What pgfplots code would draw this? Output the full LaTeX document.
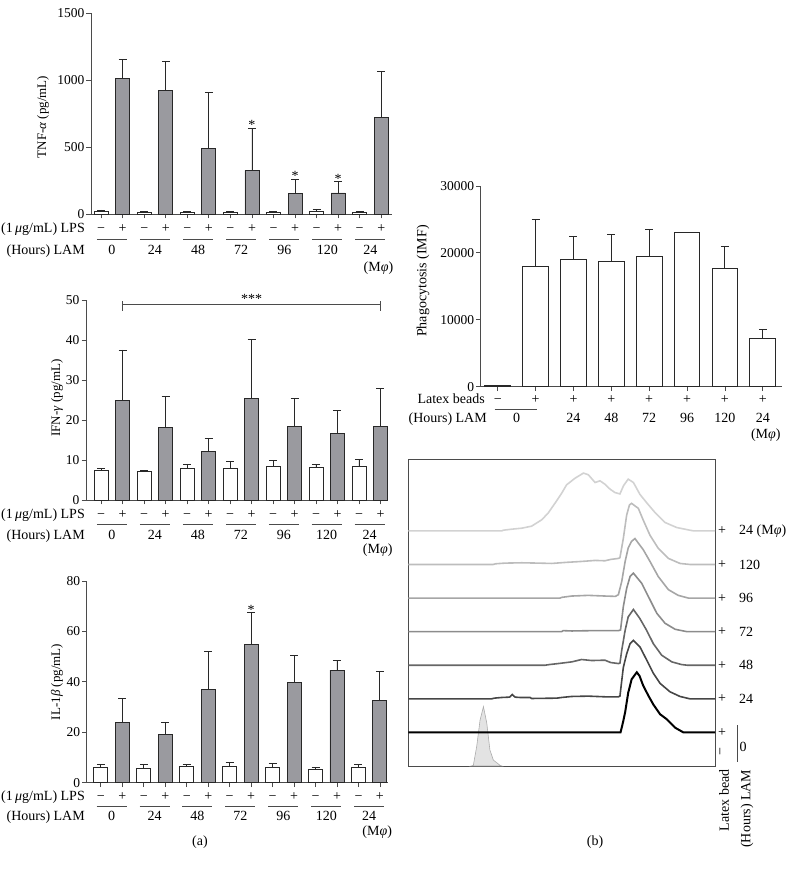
\documentclass[border=0pt]{standalone}
\usepackage{pgfplots}
\pgfplotsset{compat=1.18}
\usepackage{fontspec}
\setmainfont{Liberation Serif}
\definecolor{barg}{RGB}{154,154,159}
\definecolor{edgec}{RGB}{40,40,40}
\definecolor{axc}{RGB}{75,75,75}
\newcommand{\fs}{\fontsize{14}{16}\selectfont}
\newcommand{\fy}{\fontsize{13}{15}\selectfont}
\newcommand{\ft}{\fontsize{13.5}{15}\selectfont}
\tikzset{pmn/.style={anchor=base,font=\fs,inner sep=0pt}}
\pgfplotsset{
  barax/.style={
    scale only axis, anchor=south west,
    axis lines*=left,
    axis line style={axc, line width=0.8pt},
    tick style={axc, line width=0.8pt},
    tick align=outside,
    major tick length=4.5pt,
    xtick={0,...,13}, xticklabels={},
    ymin=0, clip=false,
    /pgf/number format/assume math mode=true,
    /pgf/number format/1000 sep={},
    scaled y ticks=false,
    yticklabel style={font=\ft, inner sep=2pt},
    ybar,
  },
  wbar/.style={fill=white, draw=edgec, line width=0.9pt, bar shift=0pt, bar width=14pt,
    error bars/y dir=plus, error bars/y explicit,
    error bars/error bar style={line width=0.9pt, edgec},
    error bars/error mark options={rotate=90, mark size=4pt, line width=0.9pt, edgec}},
  gbar/.style={wbar, fill=barg},
}
\newcommand{\pmrow}[1]{%
\pgfplotsinvokeforeach{0,2,4,6,8,10,12}{\node[pmn] at ([yshift=#1]axis cs:##1,0) {−};}%
\pgfplotsinvokeforeach{1,3,5,7,9,11,13}{\node[pmn] at ([yshift=#1]axis cs:##1,0) {+};}%
}
\newcommand{\grp}[4]{%
\draw[axc, line width=0.7pt] ([xshift=-15pt,yshift=#3]axis cs:#1,0) -- ([xshift=15pt,yshift=#3]axis cs:#1,0);
\node[pmn] at ([yshift=#4]axis cs:#1,0) {#2};
}
\newcommand{\lamrow}[3]{%
\grp{0.5}{0}{#1}{#2}\grp{2.5}{24}{#1}{#2}\grp{4.5}{48}{#1}{#2}\grp{6.5}{72}{#1}{#2}%
\grp{8.5}{96}{#1}{#2}\grp{10.5}{120}{#1}{#2}\grp{12.5}{24}{#1}{#2}%
\node[pmn] at ([xshift=8pt,yshift=#3]axis cs:12.5,0) {(M\textit{φ})};
}
\newcommand{\sig}[2]{\node[anchor=base,font=\fs,inner sep=0pt] at ([yshift=-1.5pt]axis cs:#1,#2) {*};}

\begin{document}
\begin{tikzpicture}
\useasboundingbox (0pt,0pt) rectangle (794pt,870pt);

%================ TNF-alpha
\begin{axis}[barax, at={(91pt,656pt)}, width=301pt, height=201pt,
  xmin=-0.47, xmax=13.5, ymax=1500, ytick={0,500,1000,1500}]
\addplot[wbar] coordinates {(0,20) +- (0,10) (2,15) +- (0,5) (4,15) +- (0,6) (6,12) +- (0,5) (8,12) +- (0,5) (10,20) +- (0,12) (12,12) +- (0,4)};
\addplot[gbar] coordinates {(1,1014) +- (0,142) (3,919) +- (0,217) (5,486) +- (0,423) (7,324) +- (0,316) (9,150) +- (0,109) (11,157) +- (0,85) (13,723) +- (0,339)};
\sig{7}{640}\sig{9}{259}\sig{11}{242}
\pmrow{-18.3pt}
\lamrow{-25.3pt}{-40.5pt}{-58pt}
\end{axis}
\node[rotate=90,font=\fy] at (43pt,753pt) {TNF-\textit{α} (pg/mL)};
\node[anchor=base east,font=\fs,inner sep=0pt] at (85pt,637.7pt) {(1\,\textit{μ}g/mL) LPS};
\node[anchor=base east,font=\fs,inner sep=0pt] at (85pt,615.5pt) {(Hours) LAM};

%================ IFN-gamma
\begin{axis}[barax, at={(86pt,370pt)}, width=302pt, height=200pt,
  xmin=-0.7, xmax=13.35, ymax=50, ytick={0,10,...,50}]
\addplot[wbar] coordinates {(0,7.4) +- (0,0.5) (2,7.1) +- (0,0.3) (4,7.8) +- (0,1.2) (6,8.0) +- (0,1.7) (8,8.5) +- (0,1.4) (10,8.2) +- (0,0.8) (12,8.5) +- (0,1.7)};
\addplot[gbar] coordinates {(1,24.8) +- (0,12.7) (3,18.1) +- (0,7.8) (5,12.2) +- (0,3.1) (7,25.3) +- (0,14.9) (9,18.3) +- (0,7.1) (11,16.6) +- (0,5.7) (13,18.3) +- (0,9.6)};
\draw[axc, line width=0.8pt] (axis cs:1,48.9) -- (axis cs:13,48.9);
\draw[axc, line width=0.8pt] (axis cs:1,47.3) -- (axis cs:1,49.8);
\draw[axc, line width=0.8pt] (axis cs:13,47.3) -- (axis cs:13,49.8);
\node[anchor=base,font=\fs,inner sep=0pt] at ([yshift=0.5pt]axis cs:7,48.9) {***};
\pmrow{-18.3pt}
\lamrow{-24.3pt}{-39.5pt}{-54pt}
\end{axis}
\node[rotate=90,font=\fy] at (57pt,472pt) {IFN-\textit{γ} (pg/mL)};
\node[anchor=base east,font=\fs,inner sep=0pt] at (85pt,351.7pt) {(1\,\textit{μ}g/mL) LPS};
\node[anchor=base east,font=\fs,inner sep=0pt] at (85pt,330.5pt) {(Hours) LAM};

%================ IL-1beta
\begin{axis}[barax, at={(86.7pt,87.3pt)}, width=301.6pt, height=201.7pt,
  xmin=-0.66, xmax=13.39, ymax=80, ytick={0,20,...,80}]
\addplot[wbar] coordinates {(0,6.0) +- (0,1.2) (2,5.7) +- (0,1.4) (4,6.5) +- (0,0.7) (6,6.3) +- (0,1.6) (8,6.2) +- (0,1.3) (10,5.3) +- (0,0.8) (12,6.0) +- (0,1.4)};
\addplot[gbar] coordinates {(1,23.8) +- (0,9.5) (3,19.1) +- (0,4.8) (5,37.0) +- (0,15.0) (7,55.0) +- (0,12.5) (9,39.6) +- (0,10.7) (11,44.7) +- (0,3.8) (13,32.8) +- (0,11.5)};
\sig{7}{67.5}
\pmrow{-17.5pt}
\lamrow{-23.5pt}{-38.3pt}{-52.5pt}
\end{axis}
\node[rotate=90,font=\fy] at (57pt,188pt) {IL-1\textit{β} (pg/mL)};
\node[anchor=base east,font=\fs,inner sep=0pt] at (85pt,69.8pt) {(1\,\textit{μ}g/mL) LPS};
\node[anchor=base east,font=\fs,inner sep=0pt] at (85pt,49pt) {(Hours) LAM};

%================ Phagocytosis
\begin{axis}[barax, at={(480.7pt,483.3pt)}, width=301pt, height=200.7pt,
  xmin=-0.45, xmax=7.5, ymax=30000, ytick={0,10000,20000,30000}, xtick={0,...,7}]
\addplot[wbar, bar width=25.7pt] coordinates {(0,150) +- (0,0) (1,18000) +- (0,7000) (2,19000) +- (0,3500) (3,18750) +- (0,4050) (4,19400) +- (0,4150) (5,23100) +- (0,0) (6,17700) +- (0,3250) (7,7200) +- (0,1420)};
\node[pmn] at ([yshift=-16.5pt]axis cs:0,0) {−};
\pgfplotsinvokeforeach{1,...,7}{\node[pmn] at ([yshift=-16.5pt]axis cs:#1,0) {+};}
\draw[axc, line width=0.7pt] ([yshift=-22.5pt]axis cs:-0.08,0) -- ([yshift=-22.5pt]axis cs:1.03,0);
\node[pmn] at ([yshift=-36pt]axis cs:0.5,0) {0};
\node[pmn] at ([yshift=-36pt]axis cs:2,0) {24};
\node[pmn] at ([yshift=-36pt]axis cs:3,0) {48};
\node[pmn] at ([yshift=-36pt]axis cs:4,0) {72};
\node[pmn] at ([yshift=-36pt]axis cs:5,0) {96};
\node[pmn] at ([yshift=-36pt]axis cs:6,0) {120};
\node[pmn] at ([yshift=-36pt]axis cs:7,0) {24};
\node[pmn] at ([xshift=3pt,yshift=-51.5pt]axis cs:7,0) {(M\textit{φ})};
\end{axis}
\node[rotate=90,font=\fs] at (423pt,589pt) {Phagocytosis (IMF)};
\node[anchor=base east,font=\fs,inner sep=0pt] at (485pt,466.3pt) {Latex beads};
\node[anchor=base east,font=\fs,inner sep=0pt] at (487pt,447pt) {(Hours) LAM};

%================ Histograms
\begin{axis}[scale only axis, anchor=south west, at={(408.3pt,104pt)}, width=306.7pt, height=307pt,
  xmin=0, xmax=100, ymin=0, ymax=9.14, xtick=\empty, ytick=\empty, clip=false,
  axis line style={axc, line width=0.8pt}]
\addplot[draw=gray!65, fill=gray!22, line width=0.6pt] coordinates {(20.5,0) (21.2,0.02) (22.3,0.58) (23.4,1.37) (24.5,1.77) (25.6,1.27) (26.6,0.48) (27.7,0.18) (29.9,0.02) (30.5,0)} \closedcycle;
\addplot[black, line width=2pt] coordinates {(0,1) (69.2,1) (70.0,1.3) (70.7,1.6) (71.7,2.18) (72.8,2.58) (74.5,2.79) (75.4,2.68) (76.6,2.39) (78.3,2.09) (79.9,1.83) (82.1,1.54) (84.3,1.39) (87.0,1.14) (89.7,1) (100,1)};
\addplot[color=gray!55!black, line width=1.6pt] coordinates {(0,2) (27.2,2) (28,2.02) (30.5,2.04) (33,2.05) (33.9,2.13) (34.8,2.05) (36.4,2.04) (39.7,2.04) (40.2,2.01) (48.4,2.02) (50,2.04) (53.3,2.07) (58.7,2.08) (64.1,2.06) (68.5,2.06) (69.0,2.08) (70.1,2.93) (71.2,3.34) (72.3,3.64) (73.4,3.74) (75.5,3.55) (77.7,3.16) (79.9,2.76) (82.1,2.46) (85.3,2.21) (88.6,2.07) (91.8,2) (100,2)};
\addplot[color=gray!80!black, line width=1.6pt] coordinates {(0,3) (44.6,3) (46,3.02) (48.9,3.05) (53.3,3.1) (56.5,3.17) (59.8,3.14) (64.1,3.15) (66,3.08) (68.5,3.05) (69.0,3.06) (69.6,3.45) (70.7,4.04) (71.7,4.44) (73.4,4.66) (75.5,4.39) (77.7,4.04) (79.9,3.64) (82.6,3.3) (85.9,3.1) (89.1,3.02) (91,3) (100,3)};
\addplot[color=gray!90, line width=1.6pt] coordinates {(0,4) (50,4) (50.5,4.03) (53.3,4.02) (60,4.03) (64.1,4.03) (68.5,4.03) (69.2,4.05) (70.1,4.74) (71.2,5.29) (72.3,5.64) (73.4,5.74) (76.1,5.44) (78.3,5.04) (81.0,4.55) (83.7,4.25) (87.0,4.07) (90.8,4) (100,4)};
\addplot[color=gray!70, line width=1.6pt] coordinates {(0,5) (49.5,5) (50,5.02) (53.3,5.06) (58.7,5.08) (64.1,5.06) (67.5,5.05) (68.5,5.1) (69.6,5.5) (70.7,6.09) (71.7,6.49) (72.8,6.69) (73.9,6.77) (76.6,6.44) (78.8,6.09) (81.5,5.64) (84.8,5.25) (88.0,5.08) (91.3,5) (100,5)};
\addplot[color=gray!52, line width=1.6pt] coordinates {(0,6) (27.7,6) (28.5,6.02) (31.5,6.04) (37.0,6.05) (42.4,6.04) (46.8,6.03) (51.1,6.06) (56.5,6.09) (60.9,6.12) (64.1,6.11) (66,6.15) (68.5,6.18) (69.0,6.2) (70.1,6.77) (71.2,7.47) (72.1,7.77) (72.8,7.82) (75.0,7.67) (76.6,7.32) (78.8,6.87) (81.5,6.48) (84.8,6.18) (88.6,6.03) (91.8,6) (100,6)};
\addplot[color=gray!35, line width=1.6pt] coordinates {(0,7) (30.5,7) (31,7.02) (33.7,7.05) (37.0,7.08) (40.2,7.14) (43.5,7.33) (45.6,7.53) (47.8,7.82) (50.0,8.12) (51.6,8.37) (54.4,8.57) (57.1,8.72) (58.7,8.67) (60.9,8.44) (62.5,8.49) (64.1,8.39) (65.8,8.24) (67.4,8.14) (69.0,8.1) (70.2,8.35) (71.7,8.54) (73.4,8.44) (75.5,8.09) (77.7,7.84) (80.4,7.55) (83.7,7.25) (87.5,7.1) (91.8,7.02) (93,7) (100,7)};
\pgfplotsinvokeforeach{1,...,7}{\node[font=\fs,inner sep=0pt] at ([xshift=7pt]axis cs:100,#1) {+};}
\node[font=\fs,anchor=west,inner sep=0pt] at ([xshift=24pt]axis cs:100,7) {24 (M\textit{φ})};
\node[font=\fs,anchor=west,inner sep=0pt] at ([xshift=24pt]axis cs:100,6) {120};
\node[font=\fs,anchor=west,inner sep=0pt] at ([xshift=24pt]axis cs:100,5) {96};
\node[font=\fs,anchor=west,inner sep=0pt] at ([xshift=24pt]axis cs:100,4) {72};
\node[font=\fs,anchor=west,inner sep=0pt] at ([xshift=24pt]axis cs:100,3) {48};
\node[font=\fs,anchor=west,inner sep=0pt] at ([xshift=24pt]axis cs:100,2) {24};
\node[font=\fs,rotate=90,inner sep=0pt] at ([xshift=7pt]axis cs:100,0.42) {−};
\draw[axc, line width=0.7pt] ([xshift=22pt]axis cs:100,1.22) -- ([xshift=22pt]axis cs:100,0.12);
\node[font=\fs,inner sep=0pt] at ([xshift=28pt]axis cs:100,0.57) {0};
\node[font=\fs,rotate=90,anchor=east,inner sep=0pt] at ([xshift=9pt]axis cs:100,-0.1) {Latex bead};
\node[font=\fs,rotate=90,anchor=east,inner sep=0pt] at ([xshift=32pt]axis cs:100,-0.1) {(Hours) LAM};
\end{axis}

\node[font=\fs] at (200pt,28pt) {(a)};
\node[font=\fs] at (595pt,28pt) {(b)};
\end{tikzpicture}
\end{document}
